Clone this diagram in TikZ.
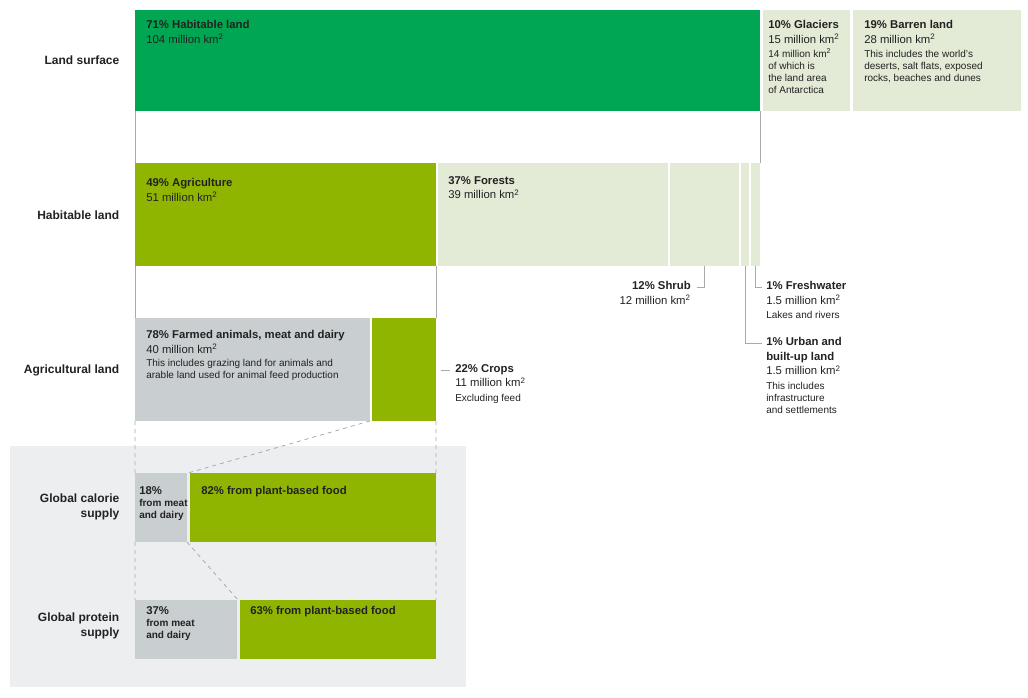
\documentclass[tikz,border=0pt]{standalone}
\usepackage{fontspec}
\setmainfont{Liberation Sans}
\definecolor{dg}{RGB}{0,166,81}
\definecolor{og}{RGB}{143,181,0}
\definecolor{lt}{RGB}{227,234,213}
\definecolor{gy}{RGB}{201,206,208}
\definecolor{pan}{RGB}{236,238,240}
\definecolor{tx}{RGB}{34,34,34}
\definecolor{ln}{RGB}{170,170,170}
\begin{document}
\begin{tikzpicture}[x=0.75pt,y=-0.75pt,
  lab/.style={anchor=east,align=right,font=\bfseries\fontsize{9}{11}\selectfont,text=tx},
  tt/.style={anchor=north west,align=left,inner sep=0pt,text=tx,font=\fontsize{8.5}{11}\selectfont},
  ttr/.style={anchor=north east,align=right,inner sep=0pt,text=tx,font=\fontsize{8.5}{11}\selectfont},
  conn/.style={draw=ln,line width=0.6pt},
  dsh/.style={draw=ln,line width=0.6pt,dashed}]
\newcommand{\ksq}{km\textsuperscript{2}}
\newcommand{\hd}[1]{{\bfseries #1}}
\newcommand{\sm}[1]{{\fontsize{7.5}{10}\selectfont #1}}
\useasboundingbox (0,0) rectangle (1028,697);
\fill[white] (0,0) rectangle (1028,697);
\fill[pan] (10,446) rectangle (466,687);
% row1
\fill[dg] (135,10) rectangle (760,111);
\fill[lt] (763,10) rectangle (850,111);
\fill[lt] (853,10) rectangle (1021,111);
\node[tt,text=tx] (hab) at (146,20) {\hd{71\% Habitable land}\\104 million \ksq};
\node[tt] (gla) at (768,20) {\hd{10\% Glaciers}\\15 million \ksq\\\sm{14 million \ksq}\\[-2pt]\sm{of which is}\\[-2pt]\sm{the land area}\\[-2pt]\sm{of Antarctica}};
\node[tt] (bar) at (864,20) {\hd{19\% Barren land}\\28 million \ksq\\\sm{This includes the world's}\\[-2pt]\sm{deserts, salt flats, exposed}\\[-2pt]\sm{rocks, beaches and dunes}};
\node[lab] (l1) at (124,60) {Land surface};
\draw[conn] (135,111) -- (135,163) (760,111) -- (760,163);
% row2
\fill[og] (135,163) rectangle (436,266);
\fill[lt] (438,163) rectangle (668,266);
\fill[lt] (670,163) rectangle (739,266);
\fill[lt] (741,163) rectangle (749,266);
\fill[lt] (751,163) rectangle (760,266);
\node[tt] (agr) at (146,178) {\hd{49\% Agriculture}\\51 million \ksq};
\node[tt] (for) at (448,176) {\hd{37\% Forests}\\39 million \ksq};
\node[lab] (l2) at (124,215) {Habitable land};
\coordinate (s1) at (704,266); \coordinate (s2) at (704,287); \coordinate (s3) at (697,287);
\draw[conn] (s1) -- (s2) -- (s3);
\node[ttr] (shr) at (691,281) {\hd{12\% Shrub}\\12 million \ksq};
\coordinate (f1) at (755,266); \coordinate (f2) at (755,287); \coordinate (f3) at (762,287);
\draw[conn] (f1) -- (f2) -- (f3);
\node[tt] (fw) at (766,281) {\hd{1\% Freshwater}\\1.5 million \ksq\\\sm{Lakes and rivers}};
\coordinate (u1) at (745,266); \coordinate (u2) at (745,343); \coordinate (u3) at (762,343);
\draw[conn] (u1) -- (u2) -- (u3);
\node[tt] (urb) at (766,337) {\hd{1\% Urban and}\\\hd{built-up land}\\1.5 million \ksq\\\sm{This includes}\\[-2pt]\sm{infrastructure}\\[-2pt]\sm{and settlements}};
\draw[conn] (135,266) -- (135,318) (436,266) -- (436,318);
% row3
\fill[gy] (135,318) rectangle (370,421);
\fill[og] (372,318) rectangle (436,421);
\node[tt] (farm) at (146,330) {\hd{78\% Farmed animals, meat and dairy}\\40 million \ksq\\[-1pt]\sm{This includes grazing land for animals and}\\[-2pt]\sm{arable land used for animal feed production}};
\coordinate (c1) at (441,370); \coordinate (c2) at (450,370);
\draw[conn] (c1) -- (c2);
\node[tt] (crop) at (455,364) {\hd{22\% Crops}\\11 million \ksq\\\sm{Excluding feed}};
\node[lab] (l3) at (124,370) {Agricultural land};
\draw[dsh] (135,421) -- (135,473) (370,421) -- (188,473) (436,421) -- (436,473);
% row4
\fill[gy] (135,473) rectangle (187,542);
\fill[og] (190,473) rectangle (436,542);
\node[tt] (m4) at (139,486) {\hd{18\%}\\[-2pt]\hd{\sm{from meat}}\\[-2pt]\hd{\sm{and dairy}}};
\node[tt] (p4) at (201,486) {\hd{82\% from plant-based food}};
\node[lab] (l4) at (124,507) {Global calorie\\supply};
\draw[dsh] (135,542) -- (135,600) (187,542) -- (238,600) (436,542) -- (436,600);
% row5
\fill[gy] (135,600) rectangle (237,659);
\fill[og] (240,600) rectangle (436,659);
\node[tt] (m5) at (146,606) {\hd{37\%}\\[-2pt]\hd{\sm{from meat}}\\[-2pt]\hd{\sm{and dairy}}};
\node[tt] (p5) at (250,606) {\hd{63\% from plant-based food}};
\node[lab] (l5) at (124,626) {Global protein\\supply};
\end{tikzpicture}
\end{document}
